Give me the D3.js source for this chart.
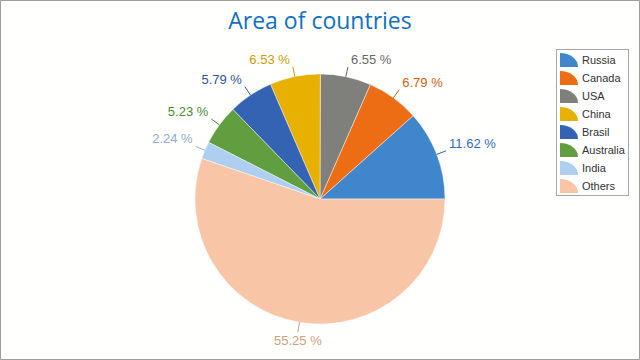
<!DOCTYPE html>
<html><head><meta charset="utf-8">
<script src="https://cdn.jsdelivr.net/npm/d3@7/dist/d3.min.js"></script>
<style>html,body{margin:0;padding:0;background:#fff;}svg{display:block;}</style>
</head><body>
<svg id="c" width="640" height="360"></svg>
<script>
const title = "Area of countries";
const categories = ["Russia","Canada","USA","China","Brasil","Australia","India","Others"];
const values = [11.62, 6.79, 6.55, 6.53, 5.79, 5.23, 2.24, 55.25];
const sliceColors = ["#3F86CC","#ED6D14","#7F7F7C","#E8B000","#3563B4","#619E3F","#AECFEF","#F8C6A6"];
const labelColors = ["#2F6DB3","#D25E0E","#686868","#C9A000","#2E549E","#4E8A2E","#8EACD2","#D1A07E"];

const svg = d3.select("#c");
const W = 640, H = 360;
svg.append("rect").attr("x",0.5).attr("y",0.5).attr("width",W-1).attr("height",H-1)
  .attr("fill","#FFFFFE").attr("stroke","#A0A0A0");

svg.append("text").attr("x",320).attr("y",29).attr("text-anchor","middle")
  .attr("font-family","Open Sans").attr("font-size",23).attr("fill","#1170C4").text(title);

const cx = 320, cy = 199, R = 125;
const color = d3.scaleOrdinal().domain(categories).range(sliceColors);
const lcolor = d3.scaleOrdinal().domain(categories).range(labelColors);
const data = categories.map((c,i)=>({name:c, value:values[i]}));
const pie = d3.pie().sort(null).value(d=>d.value).startAngle(Math.PI/2).endAngle(Math.PI/2 - 2*Math.PI);
const arcs = pie(data);
const arc = d3.arc().innerRadius(0).outerRadius(R);
const g = svg.append("g").attr("transform",`translate(${cx},${cy})`);
g.selectAll("path.s").data(arcs).join("path").attr("class","s")
  .attr("d",arc).attr("fill",d=>color(d.data.name))
  .attr("stroke","#ffffff").attr("stroke-opacity",0.55).attr("stroke-width",0.8);

const fmt = v => v.toFixed(2) + " %";
arcs.forEach(d=>{
  const m = (d.startAngle + d.endAngle)/2;
  const sx = Math.sin(m), cyy = -Math.cos(m);
  const p0 = [sx*R, cyy*R], p1 = [sx*(R+10), cyy*(R+10)];
  const col = lcolor(d.data.name);
  g.append("line").attr("x1",p0[0]).attr("y1",p0[1]).attr("x2",p1[0]).attr("y2",p1[1])
    .attr("stroke",col).attr("stroke-width",1);
  let anchor = "middle", tx = p1[0];
  if (sx > 0.18) { anchor = "start"; tx = p1[0] + 3; }
  else if (sx < -0.18) { anchor = "end"; tx = p1[0] - 3; }
  let ty = cyy < 0 ? p1[1] - 3 : p1[1] + 12.5;
  g.append("text").attr("x",tx).attr("y",ty).attr("text-anchor",anchor)
    .attr("font-family","Liberation Sans").attr("font-size",13).attr("fill",col).text(fmt(d.data.value));
});

// legend
const lg = svg.append("g");
lg.append("rect").attr("x",556.5).attr("y",49.5).attr("width",72).attr("height",146)
  .attr("fill","#FFFFFF").attr("stroke","#A8A8A8");
categories.forEach((c,i)=>{
  const yc = 60 + i*18;
  const x0 = 560, y0 = yc - 7, w = 18, h = 14;
  lg.append("path").attr("d",`M${x0},${y0+h}L${x0},${y0}A${w},${h} 0 0 1 ${x0+w},${y0+h}Z`)
    .attr("fill",color(c));
  lg.append("text").attr("x",582).attr("y",yc+4).attr("font-family","Liberation Sans")
    .attr("font-size",11).attr("fill","#333").text(c);
});
</script>
</body></html>
